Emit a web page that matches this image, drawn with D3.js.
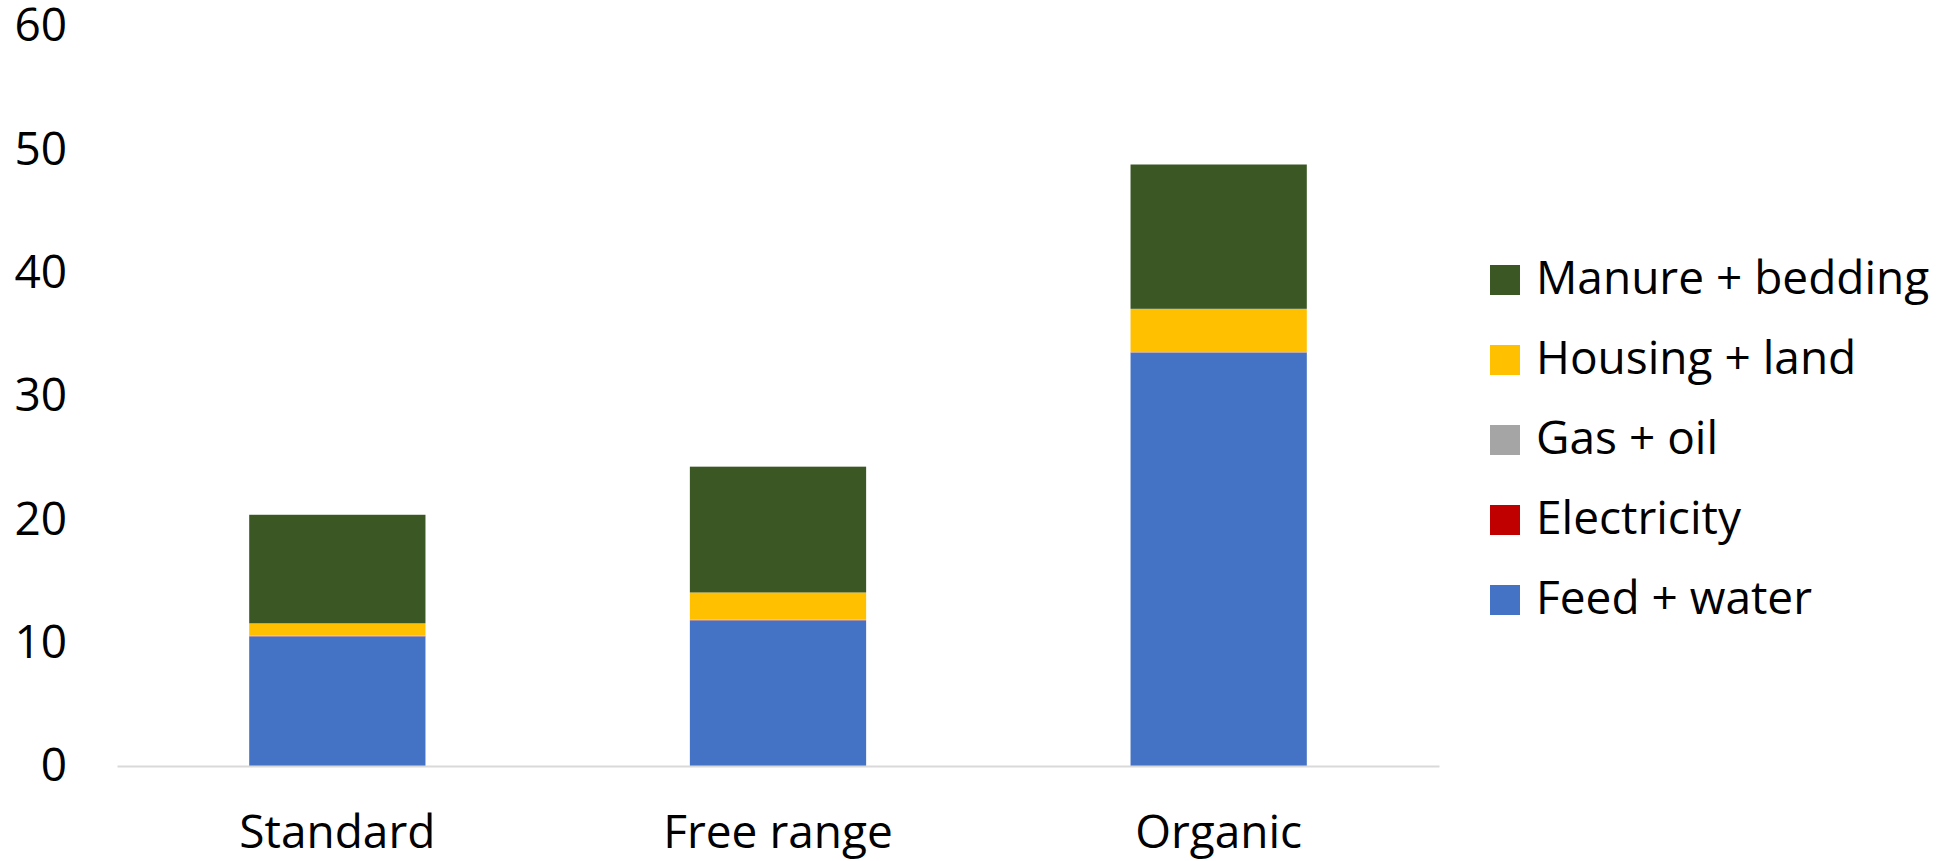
<!DOCTYPE html>
<html>
<head>
<meta charset="utf-8">
<script src="https://cdn.jsdelivr.net/npm/d3@7"></script>
<style>
  html, body { margin: 0; padding: 0; background: #ffffff; }
  svg { display: block; }
  text { font-family: "Open Sans", "Liberation Sans", sans-serif; fill: #000000; }
</style>
</head>
<body>
<svg id="chart" width="1959" height="861"></svg>
<script>
// Production systems shown along the x axis
const categories = ["Standard", "Free range", "Organic"];

// Stacked components, bottom to top
const feedWater      = [10.5, 11.8, 33.5];
const electricity    = [0.02, 0.02, 0.02];
const gasOil         = [0.05, 0.05, 0.05];
const housingLand    = [1.0, 2.2, 3.5];
const manureBedding  = [8.8, 10.2, 11.7];

const seriesNames  = ["Feed + water", "Electricity", "Gas + oil", "Housing + land", "Manure + bedding"];
const seriesValues = [feedWater, electricity, gasOil, housingLand, manureBedding];
const seriesColors = ["#4472C4", "#C00000", "#A5A5A5", "#FFC000", "#3A5724"];

// Value axis ticks
const yTicks = [0, 10, 20, 30, 40, 50, 60];

const svg = d3.select("#chart");

const x = d3.scaleBand()
  .domain(categories)
  .range([117, 1439])
  .paddingInner(0.6)
  .paddingOuter(0.3);

const y = d3.scaleLinear()
  .domain([0, 60])
  .range([766, 26]);

// Build rows for d3.stack
const rows = categories.map((c, i) => {
  const r = { category: c };
  seriesNames.forEach((s, j) => { r[s] = seriesValues[j][i]; });
  return r;
});

const stacked = d3.stack().keys(seriesNames)(rows);
const color = d3.scaleOrdinal().domain(seriesNames).range(seriesColors);

// Bars
svg.append("g")
  .selectAll("g")
  .data(stacked)
  .join("g")
    .attr("fill", d => color(d.key))
  .selectAll("rect")
  .data(d => d)
  .join("rect")
    .attr("x", d => x(d.data.category))
    .attr("width", x.bandwidth())
    .attr("y", d => y(d[1]))
    .attr("height", d => y(d[0]) - y(d[1]));

// Left axis: labels only
const yAxis = svg.append("g")
  .attr("transform", "translate(117,0)")
  .call(d3.axisLeft(y).tickValues(yTicks).tickSize(0).tickPadding(50));
yAxis.select(".domain").remove();
yAxis.selectAll("text")
  .attr("font-family", "Open Sans")
  .attr("font-size", 46)
  .attr("fill", "#000");

// Bottom axis with light baseline
const xAxis = svg.append("g")
  .attr("transform", "translate(0,766)")
  .call(d3.axisBottom(x).tickSize(0).tickSizeOuter(0).tickPadding(49));
xAxis.select(".domain")
  .attr("stroke", "#D9D9D9")
  .attr("stroke-width", 2);
xAxis.selectAll("text")
  .attr("font-family", "Open Sans")
  .attr("font-size", 46)
  .attr("fill", "#000");

// Legend, top entry is the top of the stack
const legendItems = seriesNames.slice().reverse();
const legendY = d3.scalePoint()
  .domain(legendItems)
  .range([280, 600]);

const legend = svg.append("g")
  .selectAll("g")
  .data(legendItems)
  .join("g")
    .attr("transform", d => `translate(1490,${legendY(d)})`);

legend.append("rect")
  .attr("x", 0)
  .attr("y", -15)
  .attr("width", 30)
  .attr("height", 30)
  .attr("fill", d => color(d));

legend.append("text")
  .attr("x", 46)
  .attr("y", 14)
  .attr("font-size", 46)
  .text(d => d);
</script>
</body>
</html>
